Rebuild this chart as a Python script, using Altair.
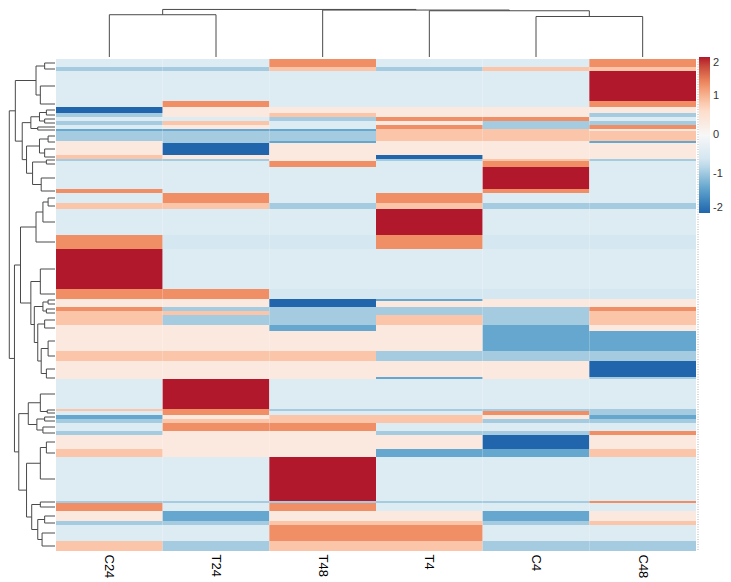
import altair as alt
import pandas as pd

columns = ["C24", "T24", "T48", "T4", "C4", "C48"]

# number of genes in each block of identical-looking rows (top to bottom)
row_counts = [4, 2, 15, 3, 3, 2, 2, 2, 2, 1, 5, 1, 6, 2, 1, 3, 11, 2, 5, 3,
              13, 7, 20, 5, 1, 3, 2, 2, 5, 3, 10, 5, 8, 1, 15, 1, 2, 2, 2, 4,
              2, 7, 4, 22, 1, 4, 5, 2, 8, 5]

c24 = [-0.45, -0.95, -0.45, -0.45, -2.0, -0.95, -0.45, -0.95, -0.45, -1.35,
       -0.95, 0.35, 0.35, 0.85, -0.95, -0.45, -0.45, 1.3, -0.45, 0.85,
       -0.45, 1.3, 2.5, 1.3, 0.35, 0.35, 1.3, 0.85, 0.85, 0.35,
       0.35, 0.85, 0.35, 0.35, -0.45, 0.85, -0.45, -1.35, -0.95, -0.45,
       -0.95, 0.35, 0.85, -0.45, -0.95, 1.3, 0.35, -0.95, -0.45, 0.85]
t24 = [-0.45, -0.95, -0.45, 1.3, 0.35, 0.35, -0.45, 0.85, 0.35, -1.35,
       -0.95, -0.95, -2.0, 0.35, -0.95, -0.45, -0.45, -0.45, 1.3, 0.85,
       -0.45, -0.6, -0.45, 1.3, 0.35, 0.35, -0.95, 0.85, -0.95, 0.35,
       0.35, 0.85, 0.35, 0.35, 2.5, 1.3, 1.3, 0.35, 0.85, 1.3,
       0.35, 0.35, 0.35, -0.45, -0.95, -0.45, -1.35, -0.95, -0.45, -0.95]
t48 = [1.3, 0.85, -0.45, -0.45, 0.35, 0.85, -0.95, -0.45, -0.45, -1.35,
       -0.95, -1.35, 0.35, 0.35, 0.35, 1.3, -0.45, -0.45, -0.45, -0.95,
       -0.45, -0.6, -0.45, -0.6, -2.0, -2.0, -0.95, -0.95, -0.95, -1.35,
       0.35, 0.85, 0.35, 0.35, -0.45, -0.95, -0.45, 0.85, 0.85, 1.3,
       0.35, 0.35, 0.35, 2.5, -0.95, 1.3, 0.35, 0.85, 1.3, 0.85]
t4 = [-0.45, -0.95, -0.45, -0.45, 0.35, 0.35, 1.3, 0.35, 1.3, 0.85,
      0.85, 0.35, 0.35, -2.0, -0.95, -0.45, -0.45, -0.45, 1.3, 0.85,
      2.5, 1.3, -0.45, -0.6, -1.35, 0.35, -0.95, -0.95, 0.85, 0.35,
      0.35, -0.95, 0.35, -1.35, -0.45, -0.95, -0.45, 0.85, 0.85, -0.45,
      -0.95, 0.35, -1.35, -0.45, -0.95, -0.45, 0.35, 0.85, 1.3, 0.85]
c4 = [-0.45, 0.85, -0.45, -0.45, 0.35, 0.35, 1.3, -0.95, -0.95, 0.85,
      0.85, 0.35, 0.35, 0.35, 0.85, 1.3, 2.5, 1.3, -0.45, -0.95,
      -0.45, -0.6, -0.45, -0.6, 0.35, 0.35, -0.95, -0.95, -0.95, -1.35,
      -1.35, -0.95, 0.35, 0.35, -0.45, -0.95, 1.3, 0.35, -0.95, -0.45,
      -0.95, -2.0, -1.35, -0.45, -0.95, -0.45, -1.35, -0.95, -0.45, -0.95]
c48 = [1.3, 0.85, 2.5, 1.3, 0.35, -0.95, -0.45, -0.95, 1.3, 0.35,
       0.85, -1.35, 0.35, 0.35, -0.95, -0.45, -0.45, -0.45, -0.45, -0.95,
       -0.45, -0.6, -0.45, -0.6, 0.35, 0.35, 1.3, 0.85, 0.85, 0.35,
       -1.35, -0.95, -2.0, -0.95, -0.45, -0.95, -0.95, -1.35, -0.95, -0.45,
       1.3, 0.35, 0.85, -0.45, 1.3, -0.45, 0.35, 0.85, -0.45, -0.95]

# dendrograms: [merge height, left, right]; leaves are column / row-block indices
col_tree = [54.0, [48.0, 0, 1], [53.3, 2, [52.5, 3, [46.0, 4, 5]]]]
row_tree = [53,
            [46,
             [22, [12, 0, 1], [17, 2, 3]],
             [38,
              [28, [18, [10, 4, 5], [12, 6, 7]], [20, 8, 9]],
              [33, [18, [8, 10, 11], [12, 12, 13]], [26, [10, 14, 15], [16, 16, 17]]]]],
            [47,
             [40,
              [22, [14, [8, 18, 19], 20], 21],
              [28, [17, 22, 23],
               [24, [14, [8, 24, 25], [10, 26, 27]],
                [20, [12, 28, 29], [16, [8, 30, 31], [10, 32, 33]]]]]],
             [42,
              [31, [17, 34, [9, 35, 36]], [21, [12, 37, 38], [14, 39, 40]]],
              [33, [17, [10, 41, 42], 43],
               [27, [17, 44, 45], [20, [12, 46, 47], [15, 48, 49]]]]]]]

color_domain = [-2, -1.3333, -0.6667, 0, 0.6667, 1.3333, 2]
color_range = ["#2166ac", "#67a9cf", "#d1e5f0", "#f7f7f7", "#fddbc7", "#ef8a62", "#b2182b"]

# ---- heatmap table
starts = []
acc = 0
for n in row_counts:
    starts.append(acc)
    acc += n
total = acc
recs = []
for name, vals in zip(columns, [c24, t24, t48, t4, c4, c48]):
    for i, v in enumerate(vals):
        recs.append({"col": name, "r0": starts[i], "r1": starts[i] + row_counts[i], "value": v})
heat_df = pd.DataFrame(recs)


def dendro_segments(tree, leafpos):
    segs = []

    def walk(node):
        if isinstance(node, int):
            return leafpos[node], 0.0
        h, l, r = node
        pl, hl = walk(l)
        pr, hr = walk(r)
        segs.append({"h1": h, "h2": h, "p1": pl, "p2": pr})
        segs.append({"h1": h, "h2": hl, "p1": pl, "p2": pl})
        segs.append({"h1": h, "h2": hr, "p1": pr, "p2": pr})
        return (pl + pr) / 2, h

    walk(tree)
    return pd.DataFrame(segs)


row_leaf = [s + n / 2 for s, n in zip(starts, row_counts)]
col_leaf = [i + 0.5 for i in range(len(columns))]
row_seg = dendro_segments(row_tree, row_leaf)
col_seg = dendro_segments(col_tree, col_leaf)

FONT = "Liberation Sans"
LINE = "#4a4a4a"
HMAX = 54.5
TOP_H = 48
W = 640
H = 492

heat = alt.Chart(heat_df).mark_rect().encode(
    x=alt.X("col:N", sort=columns, scale=alt.Scale(paddingInner=0, paddingOuter=0),
            axis=alt.Axis(title=None, labelAngle=90, labelAlign="left", labelBaseline="middle",
                          ticks=False, domain=False, labelFontSize=13, labelFont=FONT,
                          labelColor="#000000", labelPadding=3)),
    y=alt.Y("r0:Q", scale=alt.Scale(domain=[0, total], reverse=True, nice=False, zero=False), axis=None),
    y2="r1:Q",
    color=alt.Color("value:Q",
                    scale=alt.Scale(domain=color_domain, range=color_range, clamp=True),
                    legend=alt.Legend(title=None, orient="none", legendX=691, legendY=TOP_H,
                                      gradientLength=156, gradientThickness=11,
                                      values=[2, 1, 0, -1, -2], labelExpr="'' + datum.value",
                                      labelFontSize=11, labelFont=FONT, labelColor="#333333",
                                      labelOffset=3, gradientStrokeWidth=0)),
)

# faint dotted column standing in for the unreadably small row names
names_strip = alt.Chart(pd.DataFrame({"v": [0]})).mark_rule(
    color="#b0b0b0", strokeWidth=1, strokeDash=[1, 1.5]
).encode(x=alt.value(W + 2), y=alt.value(0), y2=alt.value(H))

heat_panel = alt.layer(heat, names_strip).properties(width=W, height=H)

left = alt.Chart(row_seg).mark_rule(color=LINE, strokeWidth=1).encode(
    x=alt.X("h1:Q", scale=alt.Scale(domain=[0, HMAX], reverse=True, nice=False, zero=False), axis=None),
    x2="h2:Q",
    y=alt.Y("p1:Q", scale=alt.Scale(domain=[0, total], reverse=True, nice=False, zero=False), axis=None),
    y2="p2:Q",
).properties(width=47, height=H)

top = alt.Chart(col_seg).mark_rule(color=LINE, strokeWidth=1).encode(
    x=alt.X("p1:Q", scale=alt.Scale(domain=[0, len(columns)], nice=False, zero=False), axis=None),
    x2="p2:Q",
    y=alt.Y("h1:Q", scale=alt.Scale(domain=[0, HMAX], nice=False, zero=False), axis=None),
    y2="h2:Q",
).properties(width=W, height=TOP_H)

spacer = alt.Chart(pd.DataFrame({"v": [0]})).mark_point(size=0, opacity=0).encode(
    x=alt.value(20), y=alt.value(20)
).properties(width=47, height=TOP_H)

chart = alt.concat(spacer, top, left, heat_panel, columns=2, spacing=0).properties(
    padding=0, background="white"
).configure_view(stroke=None)

chart.save("out.html", embed_options={"renderer": "svg", "actions": False})
